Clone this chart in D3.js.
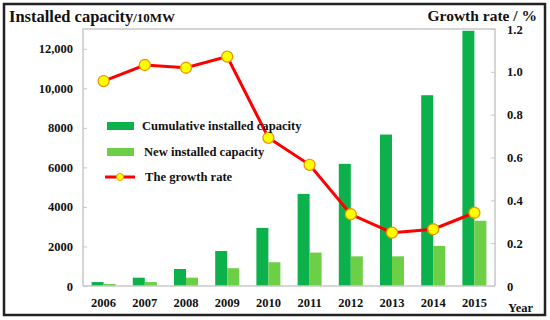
<!DOCTYPE html>
<html>
<head>
<meta charset="utf-8">
<script src="https://cdn.jsdelivr.net/npm/d3@7"></script>
<style>
  html, body { margin: 0; padding: 0; background: #fff; }
  svg { display: block; }
</style>
</head>
<body>
<div id="chart"></div>
<script>
// datos
const years = ["2006", "2007", "2008", "2009", "2010", "2011", "2012", "2013", "2014", "2015"];
const cumulative = [200, 420, 860, 1770, 2940, 4660, 6180, 7660, 9650, 12910];
const newInstalled = [100, 200, 420, 900, 1200, 1690, 1500, 1500, 2030, 3300];
const growthRate = [0.957, 1.032, 1.019, 1.071, 0.692, 0.566, 0.335, 0.249, 0.265, 0.342];
const leftTicks = [0, 2000, 4000, 6000, 8000, 10000, 12000];
const leftTickLabels = ["0", "2000", "4000", "6000", "8000", "10,000", "12,000"];
const rightTicks = [0, 0.2, 0.4, 0.6, 0.8, 1.0, 1.2];
const rightTickLabels = ["0", "0.2", "0.4", "0.6", "0.8", "1.0", "1.2"];

const W = 550, H = 320;
const margin = { top: 29, right: 55, bottom: 34, left: 83 };
const FONT = "'Liberation Serif', 'Times New Roman', serif";
const DARK = "#0db14b";
const LIGHT = "#6dcf46";
const AXIS_GRAY = "#c8c8c8";

const svg = d3.select("#chart").append("svg")
  .attr("width", W)
  .attr("height", H)
  .style("font-family", FONT);

// marco exterior
svg.append("rect")
  .attr("x", 4).attr("y", 4)
  .attr("width", W - 9).attr("height", H - 9)
  .attr("fill", "#fff")
  .attr("stroke", "#222")
  .attr("stroke-width", 2.5);

const x0 = margin.left, x1 = W - margin.right;
const y0 = H - margin.bottom, y1 = margin.top;

const x = d3.scaleBand().domain(years).range([x0, x1]).padding(0);
const yLeft = d3.scaleLinear().domain([0, 13000]).range([y0, y1]);
const yRight = d3.scaleLinear().domain([0, 1.2]).range([y0, y1]);

const barW = 12;

// barras acumuladas
svg.append("g").selectAll("rect")
  .data(years)
  .join("rect")
  .attr("x", (d) => x(d) + x.bandwidth() / 2 - barW)
  .attr("y", (d, i) => yLeft(cumulative[i]))
  .attr("width", barW)
  .attr("height", (d, i) => y0 - yLeft(cumulative[i]))
  .attr("fill", DARK);

// barras nuevas
svg.append("g").selectAll("rect")
  .data(years)
  .join("rect")
  .attr("x", (d) => x(d) + x.bandwidth() / 2)
  .attr("y", (d, i) => yLeft(newInstalled[i]))
  .attr("width", barW)
  .attr("height", (d, i) => y0 - yLeft(newInstalled[i]))
  .attr("fill", LIGHT);

// marco del area de trazado
const frame = svg.append("g")
  .attr("stroke", AXIS_GRAY)
  .attr("stroke-width", 1.5)
  .attr("fill", "none");
frame.append("path").attr("d", `M${x0},${y0}V${y1}H${x1}V${y0}`);
frame.append("line").attr("x1", x0).attr("x2", x1).attr("y1", y0).attr("y2", y0);

// ejes
const axisL = d3.axisRight(yLeft)
  .tickValues(leftTicks)
  .tickSize(4)
  .tickFormat((d, i) => leftTickLabels[i]);
const gL = svg.append("g")
  .attr("transform", `translate(${x0},0)`)
  .call(axisL);
gL.select(".domain").remove();
gL.selectAll(".tick line").attr("stroke", AXIS_GRAY);
gL.selectAll(".tick text")
  .attr("x", -10)
  .attr("text-anchor", "end")
  .attr("font-size", 12.5)
  .attr("font-weight", "bold")
  .attr("font-family", FONT)
  .attr("fill", "#111");

const axisR = d3.axisLeft(yRight)
  .tickValues(rightTicks)
  .tickSize(4)
  .tickFormat((d, i) => rightTickLabels[i]);
const gR = svg.append("g")
  .attr("transform", `translate(${x1},0)`)
  .call(axisR);
gR.select(".domain").remove();
gR.selectAll(".tick line").attr("stroke", AXIS_GRAY);
gR.selectAll(".tick text")
  .attr("x", 12)
  .attr("text-anchor", "start")
  .attr("font-size", 12.5)
  .attr("font-weight", "bold")
  .attr("font-family", FONT)
  .attr("fill", "#111");

const axisB = d3.axisBottom(x).tickSize(0).tickPadding(12);
const gB = svg.append("g")
  .attr("transform", `translate(0,${y0})`)
  .call(axisB);
gB.select(".domain").remove();
gB.selectAll(".tick text")
  .attr("font-size", 12.5)
  .attr("font-weight", "bold")
  .attr("font-family", FONT)
  .attr("fill", "#111");

// linea de tasa de crecimiento
const line = d3.line()
  .x((d, i) => x(years[i]) + x.bandwidth() / 2)
  .y((d) => yRight(d));

svg.append("path")
  .datum(growthRate)
  .attr("d", line)
  .attr("fill", "none")
  .attr("stroke", "#ff0000")
  .attr("stroke-width", 3);

svg.append("g").selectAll("circle")
  .data(growthRate)
  .join("circle")
  .attr("cx", (d, i) => x(years[i]) + x.bandwidth() / 2)
  .attr("cy", (d) => yRight(d))
  .attr("r", 5.5)
  .attr("fill", "#ffff00")
  .attr("stroke", "#e89a00")
  .attr("stroke-width", 1.3);

// titulos
svg.append("text")
  .attr("x", 9).attr("y", 22)
  .attr("font-size", 16.5)
  .attr("font-weight", "bold")
  .attr("fill", "#111")
  .text("Installed capacity")
  .append("tspan")
  .attr("font-size", 13)
  .text("/10MW");

svg.append("text")
  .attr("x", 537).attr("y", 21)
  .attr("text-anchor", "end")
  .attr("font-size", 15.5)
  .attr("font-weight", "bold")
  .attr("fill", "#111")
  .text("Growth rate / %");

svg.append("text")
  .attr("x", 508).attr("y", 312)
  .attr("font-size", 12.5)
  .attr("font-weight", "bold")
  .attr("fill", "#111")
  .text("Year");

// leyenda
const legend = svg.append("g").attr("font-size", 12.6).attr("font-weight", "bold").attr("fill", "#111");
const legItems = [
  { label: "Cumulative installed capacity", type: "bar", color: DARK, y: 126 },
  { label: "New installed capacity", type: "bar", color: LIGHT, y: 152 },
  { label: "The growth rate", type: "line", color: "#ff0000", y: 177 }
];
legItems.forEach((it) => {
  if (it.type === "bar") {
    legend.append("rect")
      .attr("x", 107).attr("y", it.y - 4)
      .attr("width", 27).attr("height", 8)
      .attr("fill", it.color);
  } else {
    legend.append("line")
      .attr("x1", 105).attr("x2", 135)
      .attr("y1", it.y).attr("y2", it.y)
      .attr("stroke", it.color).attr("stroke-width", 3);
    legend.append("circle")
      .attr("cx", 120).attr("cy", it.y).attr("r", 3.5)
      .attr("fill", "#ffff00").attr("stroke", "#e89a00").attr("stroke-width", 1);
  }
  legend.append("text")
    .attr("x", it.type === "bar" ? (it.label.startsWith("New") ? 144 : 142) : 145)
    .attr("y", it.y)
    .attr("dy", "0.35em")
    .text(it.label);
});
</script>
</body>
</html>
